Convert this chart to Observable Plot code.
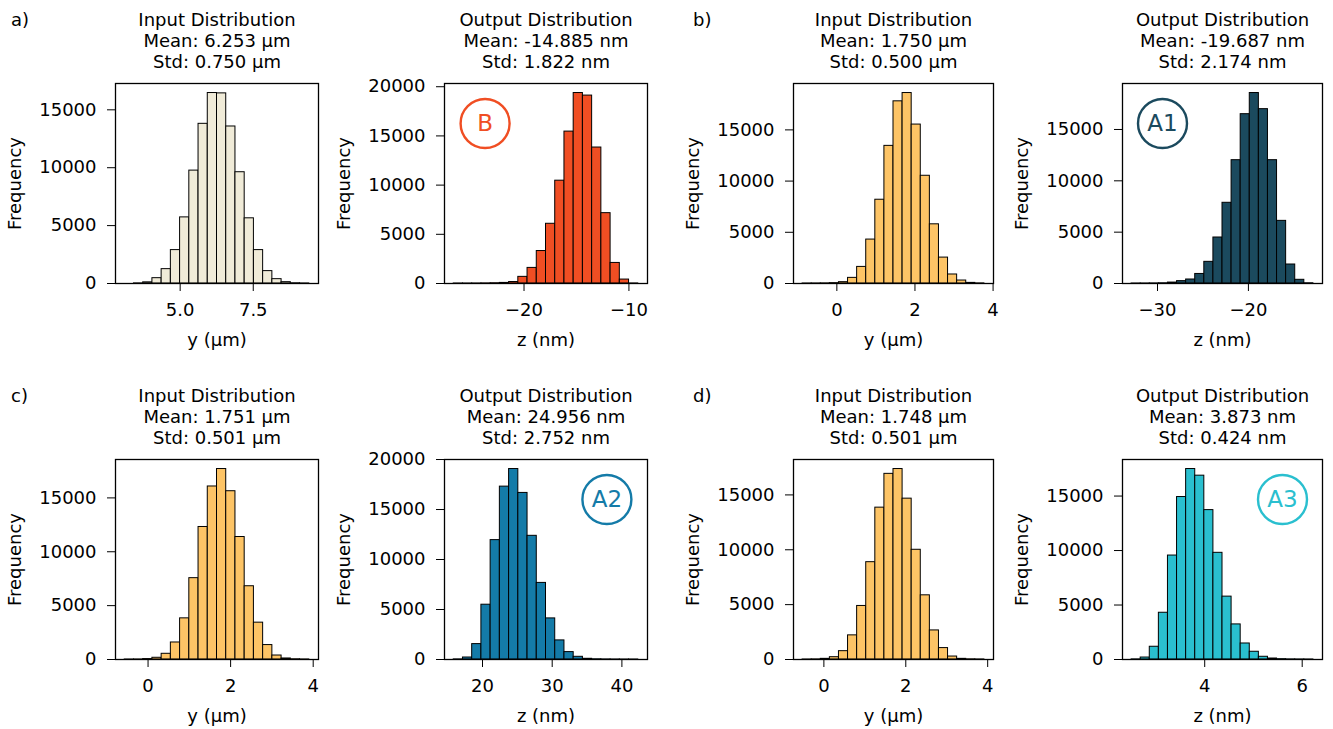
<!DOCTYPE html>
<html><head><meta charset="utf-8">
<script src="https://cdn.jsdelivr.net/npm/d3@7"></script>
<script src="https://cdn.jsdelivr.net/npm/@observablehq/plot@0.6"></script>
<style>
body{margin:0;background:#fff;}
#fig{position:relative;width:1333px;height:729px;font-family:"DejaVu Sans";background:#fff;overflow:hidden;}
.cell{position:absolute;}
.tag{position:absolute;font:18px "DejaVu Sans";color:#000;line-height:21px;}
</style></head><body><div id="fig"></div>
<script>
// ---------- data (bin range [first edge, last edge] + 20 bin counts) ----------
const aInRange = [3.104, 9.416];
const aInCounts = [0, 10, 100, 460, 1240, 2885, 5710, 9750, 13790, 16450, 16420, 13560, 9610, 5630, 2885, 1070, 375, 115, 20, 5];
const aOutRange = [-26.70, -9.11];
const aOutCounts = [1, 1, 3, 10, 25, 60, 150, 675, 1585, 3300, 6070, 10450, 15440, 19360, 19100, 13820, 7150, 2090, 400, 5];
const bInRange = [-0.877, 3.778];
const bInCounts = [2, 5, 12, 35, 130, 550, 1620, 4290, 8180, 13440, 17790, 18600, 15520, 10520, 5780, 2530, 880, 290, 60, 10];
const bOutRange = [-32.85, -12.85];
const bOutCounts = [1, 3, 8, 20, 90, 230, 390, 930, 2110, 4480, 7860, 12010, 16490, 18550, 16980, 12010, 6100, 1850, 360, 20];
const cInRange = [-0.565, 3.905];
const cInCounts = [1, 5, 40, 160, 530, 1580, 3820, 7550, 12300, 16060, 17680, 15620, 11370, 6800, 3420, 1340, 370, 95, 20, 5];
const cOutRange = [15.87, 42.35];
const cOutCounts = [10, 200, 1540, 5480, 11940, 17290, 19050, 16660, 12370, 7660, 4110, 1910, 740, 270, 70, 20, 8, 3, 1, 1];
const dInRange = [-0.52, 3.92];
const dInCounts = [2, 10, 60, 210, 760, 2200, 4880, 8870, 13840, 16920, 17360, 14660, 10000, 5850, 2650, 1040, 270, 60, 15, 5];
const dOutRange = [2.50, 6.23];
const dOutCounts = [10, 180, 1170, 4290, 9540, 14910, 17480, 16870, 13710, 9790, 5770, 3220, 1470, 710, 250, 90, 30, 10, 5, 2];

const titles = [
  "Input Distribution\nMean: 6.253 µm\nStd: 0.750 µm",
  "Output Distribution\nMean: -14.885 nm\nStd: 1.822 nm",
  "Input Distribution\nMean: 1.750 µm\nStd: 0.500 µm",
  "Output Distribution\nMean: -19.687 nm\nStd: 2.174 nm",
  "Input Distribution\nMean: 1.751 µm\nStd: 0.501 µm",
  "Output Distribution\nMean: 24.956 nm\nStd: 2.752 nm",
  "Input Distribution\nMean: 1.748 µm\nStd: 0.501 µm",
  "Output Distribution\nMean: 3.873 nm\nStd: 0.424 nm"
];
const xLabels = ["y (µm)", "z (nm)", "y (µm)", "z (nm)", "y (µm)", "z (nm)", "y (µm)", "z (nm)"];
const xTickValues = [[5.0, 7.5], [-20, -10], [0, 2, 4], [-30, -20], [0, 2, 4], [20, 30, 40], [0, 2, 4], [4, 6]];
const xTickFormats = [".1f", "d", "d", "d", "d", "d", "d", "d"];
const yTickValues = [
  [0, 5000, 10000, 15000], [0, 5000, 10000, 15000, 20000], [0, 5000, 10000, 15000], [0, 5000, 10000, 15000],
  [0, 5000, 10000, 15000], [0, 5000, 10000, 15000, 20000], [0, 5000, 10000, 15000], [0, 5000, 10000, 15000]
];
const colors = ["#F0EBD8", "#F04E23", "#FDC466", "#1B4A5E", "#FDC466", "#147BA8", "#FDC466", "#2ABFCF"];
const badgeLabels = [null, "B", null, "A1", null, "A2", null, "A3"];
const badgeFracX = [null, 0.2, null, 0.2, null, 0.8, null, 0.8];
const badgeFracY = [null, 0.8, null, 0.8, null, 0.8, null, 0.8];
const panelTags = ["a)", "b)", "c)", "d)"];

const ranges = [aInRange, aOutRange, bInRange, bOutRange, cInRange, cOutRange, dInRange, dOutRange];
const counts = [aInCounts, aOutCounts, bInCounts, bOutCounts, cInCounts, cOutCounts, dInCounts, dOutCounts];

// ---------- layout ----------
const colCells = [[0, 330], [330, 680], [680, 1010], [1010, 1333]];
const rowCells = [[0, 372], [372, 729]];
const colFrames = [[115, 318], [444, 647], [793, 993], [1122, 1322]];
const rowFrames = [[83, 283], [459, 659]];
const tagPos = [[11, 9], [693, 9], [11, 385], [693, 385]];

const fig = document.getElementById("fig");

for (let i = 0; i < 8; i++) {
  const row = Math.floor(i / 4), col = i % 4;
  const [cx0, cx1] = colCells[col], [cy0, cy1] = rowCells[row];
  const [fx0, fx1] = colFrames[col], [fy0, fy1] = rowFrames[row];
  const [lo, hi] = ranges[i];
  const n = counts[i].length;
  const w = (hi - lo) / n;
  const bins = counts[i].map((c, k) => ({x0: lo + k * w, x1: lo + (k + 1) * w, count: c}));
  const pad = 0.05 * (hi - lo);
  const xdom = [lo - pad, hi + pad];
  const ydom = [0, d3.max(counts[i]) * 1.05];
  const marks = [
    Plot.rectY(bins, {x1: "x0", x2: "x1", y: "count", fill: colors[i], stroke: "#000", strokeWidth: 1}),
    Plot.frame({stroke: "#000", strokeWidth: 1.3}),
    Plot.text([titles[i]], {frameAnchor: "top", dy: -43, lineAnchor: "middle", lineHeight: 1.16, fontSize: 18, fill: "#000"})
  ];
  if (badgeLabels[i]) {
    const badge = [{label: badgeLabels[i], fx: badgeFracX[i], fy: badgeFracY[i]}];
    const bx = d => xdom[0] + d.fx * (xdom[1] - xdom[0]);
    const by = d => ydom[0] + d.fy * (ydom[1] - ydom[0]);
    marks.push(Plot.dot(badge, {x: bx, y: by, r: 24.5, stroke: colors[i], strokeWidth: 2.4, fill: "white"}));
    marks.push(Plot.text(badge, {x: bx, y: by, text: "label", fill: colors[i], fontSize: 23}));
  }
  const chart = Plot.plot({
    width: cx1 - cx0, height: cy1 - cy0,
    marginLeft: fx0 - cx0, marginRight: cx1 - fx1, marginTop: fy0 - cy0, marginBottom: cy1 - fy1,
    style: {fontFamily: "DejaVu Sans", fontSize: "18px", color: "#000", background: "transparent", overflow: "visible"},
    x: {domain: xdom, ticks: xTickValues[i], tickFormat: d3.format(xTickFormats[i]), label: xLabels[i],
        labelAnchor: "center", labelArrow: "none", labelOffset: 62, tickSize: 8, tickPadding: 12},
    y: {domain: ydom, ticks: yTickValues[i], tickFormat: d3.format("d"), label: "Frequency",
        labelAnchor: "center", labelArrow: "none", labelOffset: 107, tickSize: 8, tickPadding: 11},
    marks
  });
  const cell = document.createElement("div");
  cell.className = "cell";
  cell.style.left = cx0 + "px";
  cell.style.top = cy0 + "px";
  cell.appendChild(chart);
  fig.appendChild(cell);
}
panelTags.forEach((t, j) => {
  const d = document.createElement("div");
  d.className = "tag";
  d.textContent = t;
  d.style.left = tagPos[j][0] + "px";
  d.style.top = tagPos[j][1] + "px";
  fig.appendChild(d);
});
</script></body></html>
